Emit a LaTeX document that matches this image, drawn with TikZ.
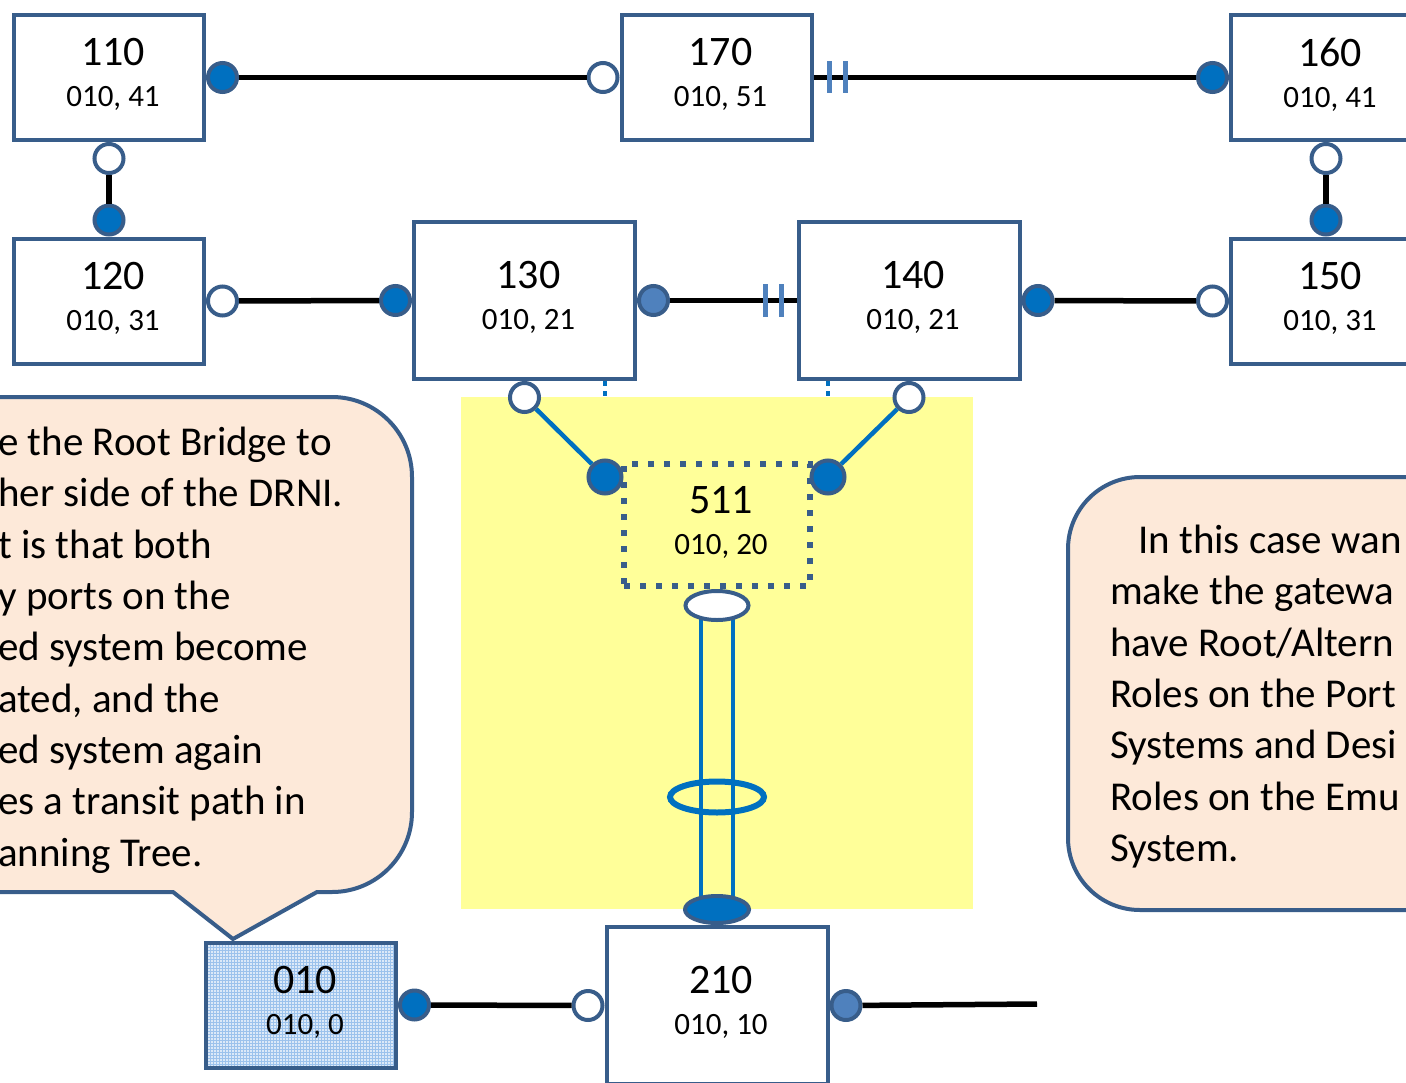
\documentclass[tikz,border=0pt]{standalone}
\usepackage{fontspec}
\setmainfont{Carlito}
\usetikzlibrary{shapes.geometric,patterns,positioning}
\definecolor{boxblue}{HTML}{385D8A}
\definecolor{portblue}{HTML}{0070C0}
\definecolor{lightport}{HTML}{4F81BD}
\definecolor{linkblue}{HTML}{0070C0}
\definecolor{paleyellow}{HTML}{FFFF99}
\definecolor{peach}{HTML}{FDE9D9}
\definecolor{patfill}{HTML}{DCE9F8}
\definecolor{patline}{HTML}{9CC2EC}
\pgfdeclarelayer{back}
\pgfdeclarelayer{yel}
\pgfdeclarelayer{mid}
\pgfsetlayers{back,yel,mid,main}
\tikzset{
  sys/.style={draw=boxblue, line width=4pt, fill=white, minimum width=190pt,
    minimum height=125pt, inner sep=0pt, align=center,
    font=\fontsize{42}{41}\selectfont},
  bigsys/.style={sys, minimum width=221pt, minimum height=157pt},
  emu/.style={sys, fill=none, line width=6pt, dash pattern=on 6pt off 10pt,
    minimum width=186pt, minimum height=122pt},
  port/.style={circle, draw=boxblue, line width=4pt, fill=portblue,
    minimum size=29pt, inner sep=0pt},
  openport/.style={port, fill=white},
  paleport/.style={port, fill=lightport},
  link/.style={line width=5.5pt, black},
  bar/.style={lightport, line width=5pt},
  bluelink/.style={linkblue, line width=4.5pt},
  dotlink/.style={linkblue, line width=4pt, dash pattern=on 5pt off 5pt},
  callout/.style={draw=boxblue, line width=4pt, fill=peach},
  notetext/.style={inner sep=0pt, align=left, font=\fontsize{41}{51.3}\selectfont}
}
\newcommand{\sysl}[2]{\hspace*{8pt}#1\\\hspace*{8pt}{\fontsize{31}{41}\selectfont #2\rule[-10pt]{0pt}{0pt}}}
\begin{document}
\begin{tikzpicture}[x=1pt, y=-1pt]
  \useasboundingbox (0,0) rectangle (1406,1082);
  \clip (0,0) rectangle (1406,1082);

  % callouts
  \draw[callout] (-60,397) [rounded corners=80pt] -- (412,397) -- (412,892)
    [sharp corners] -- (317,892) -- (233,939) -- (173,892) -- (-60,892) -- cycle;
  \draw[callout] (1500,477) [rounded corners=72pt] -- (1068,477) -- (1068,910)
    -- (1500,910);
  \node[notetext, anchor=north west] (notel) at (-2,427)
    {e the Root Bridge to\\her side of the DRNI.\\t is that both\\y ports on the\\ed system become\\ated, and the\\ed system again\\es a transit path in\\anning Tree.};
  \node[notetext, anchor=north west] (noter) at (1110,525)
    {\hspace*{28pt}In this case wan\\make the gatewa\\have Root/Altern\\Roles on the Port\\Systems and Desi\\Roles on the Emu\\System.};

  % systems
  \node[sys] (b110) at (109,77.5) {\sysl{110}{010, 41}};
  \node[sys] (b170) at (716.5,77.5) {\sysl{170}{010, 51}};
  \node[sys] (b160) at (1326,77.5) {\sysl{160}{010, 41}};
  \node[sys] (b120) at (109,301) {\sysl{120}{010, 31}};
  \node[bigsys] (b130) at (524.5,300.5) {\sysl{130}{010, 21}};
  \node[bigsys] (b140) at (909,300.5) {\sysl{140}{010, 21}};
  \node[sys] (b150) at (1326,301) {\sysl{150}{010, 31}};
  \node[emu] (b511) at (717,525) {\sysl{511}{010, 20}};
  \node[sys, preaction={fill=patfill}, pattern=grid, pattern color=patline]
    (b010) at (301,1005) {\sysl{010}{010, 0}};
  \node[bigsys] (b210) at (717,1005.5) {\sysl{210}{010, 10}};

  % ports
  \node[port, anchor=west] (p110e) at (b110.east) {};
  \node[openport, anchor=east] (p170w) at (b170.west) {};
  \node[port, anchor=east] (p160w) at (b160.west) {};
  \node[openport, anchor=north] (p110s) at (b110.south) {};
  \node[port, anchor=south] (p120n) at (b120.north) {};
  \node[openport, anchor=north] (p160s) at (b160.south) {};
  \node[port, anchor=south] (p150n) at (b150.north) {};
  \node[openport, anchor=west] (p120e) at (b120.east) {};
  \node[port, anchor=east] (p130w) at (b130.west) {};
  \node[paleport, anchor=west] (p130e) at (b130.east) {};
  \node[port, anchor=west] (p140e) at (b140.east) {};
  \node[openport, anchor=east] (p150w) at (b150.west) {};
  \node[openport, anchor=north] (p130s) at (b130.south) {};
  \node[openport, anchor=north] (p140s) at (b140.south) {};
  \node[port, minimum size=33pt] (p511w) at (605,477) {};
  \node[port, minimum size=33pt] (p511e) at (828,477) {};
  \node[openport, ellipse, minimum width=63pt, minimum height=29pt, anchor=north]
    (p511s) at (b511.south) {};
  \node[ellipse, draw=linkblue, line width=6pt, minimum width=94pt,
    minimum height=31pt] (ring) at (717,797) {};
  \node[port, ellipse, minimum width=64pt, minimum height=27pt, anchor=south]
    (p210n) at (b210.north) {};
  \node[port, anchor=west] (p010e) at (b010.east) {};
  \node[openport, anchor=east] (p210w) at (b210.west) {};
  \node[paleport, anchor=west] (p210e) at (b210.east) {};
  \coordinate (tail) at (1037,1004);

  % links
  \draw[link] (p110e) -- (p170w);
  \draw[link] (b170.east) -- (p160w);
  \draw[link] (p110s) -- (p120n);
  \draw[link] (p160s) -- (p150n);
  \draw[link] (p120e) -- (p130w);
  \draw[link] (p130e) -- (b140.west);
  \draw[link] (p140e) -- (p150w);
  \draw[link] (p010e) -- (p210w);
  \draw[link] (p210e) -- (tail);
  \draw[bluelink] (p130s) -- (p511w);
  \draw[bluelink] (p140s) -- (p511e);
  \draw[bar] (829,61) -- (829,93) (845,61) -- (845,93);
  \draw[bar] (765,284) -- (765,317) (781,284) -- (781,317);

  \begin{pgfonlayer}{mid}
    \draw[bluelink] ([xshift=-16pt]p511s.center) -- ([xshift=-16pt]p210n.center);
    \draw[bluelink] ([xshift=16pt]p511s.center) -- ([xshift=16pt]p210n.center);
  \end{pgfonlayer}
  \begin{pgfonlayer}{yel}
    \fill[paleyellow] (461,397) rectangle (973,909);
  \end{pgfonlayer}
  \begin{pgfonlayer}{back}
    \draw[dotlink] (b130.south -| p511w) -- (p511w);
    \draw[dotlink] (b140.south -| p511e) -- (p511e);
  \end{pgfonlayer}
\end{tikzpicture}
\end{document}
